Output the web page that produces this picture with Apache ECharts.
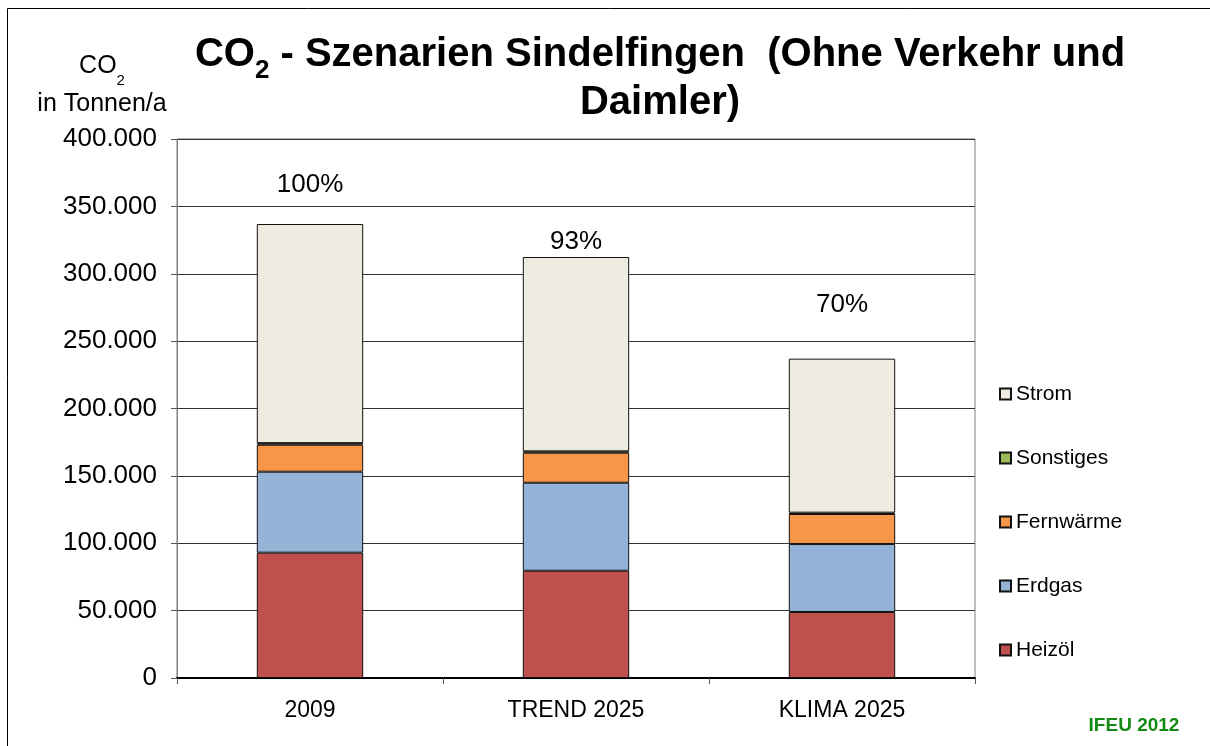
<!DOCTYPE html>
<html>
<head>
<meta charset="utf-8">
<script src="https://cdn.jsdelivr.net/npm/echarts@6/dist/echarts.min.js"></script>
<style>
  html, body { margin: 0; padding: 0; background: #fff; }
  #chart { width: 1210px; height: 746px; }
</style>
</head>
<body>
<div id="chart"></div>
<script>
// values in tonnes CO2 per year
const categories = ['2009', 'TREND 2025', 'KLIMA 2025'];
const heizoel = [93000, 79600, 49000];
const erdgas = [60100, 65300, 50400];
const fernwaerme = [20000, 22300, 22300];
const sonstiges = [1200, 1000, 1000];
const strom = [162600, 144200, 114300];
const percentLabels = ['100%', '93%', '70%'];
const percentLabelY = [366000, 324000, 277000];
const yTicks = [0, 50000, 100000, 150000, 200000, 250000, 300000, 350000, 400000];

const font = 'Liberation Sans, Arial, sans-serif';

const colors = {
    'Heizöl': '#C0504D',
    'Erdgas': '#95B3D7',
    'Fernwärme': '#F79646',
    'Sonstiges': '#9BBB59',
    'Strom': '#EEECE1'
};

function barSeries(name, data) {
    return {
        name: name,
        type: 'bar',
        stack: 'co2',
        barWidth: '40%',
        data: data,
        itemStyle: { color: colors[name], borderColor: '#111', borderWidth: 1 }
    };
}

function fmt(v) {
    if (v === 0) return '0';
    return String(v).replace(/\B(?=(\d{3})+(?!\d))/g, '.');
}

const chart = echarts.init(document.getElementById('chart'));
chart.setOption({
    animation: false,
    backgroundColor: '#fff',
    textStyle: { fontFamily: font },
    grid: {
        left: 177, right: 235, top: 139, bottom: 68,
        show: true, borderColor: '#7f7f7f', borderWidth: 1
    },
    legend: {
        orient: 'vertical',
        left: 999,
        top: 383,
        padding: 0,
        icon: 'rect',
        itemWidth: 11,
        itemHeight: 11,
        itemGap: 42,
        data: ['Strom', 'Sonstiges', 'Fernwärme', 'Erdgas', 'Heizöl'],
        textStyle: { fontFamily: font, fontSize: 21, color: '#000', lineHeight: 22 }
    },
    xAxis: {
        type: 'category',
        data: categories,
        axisLine: { lineStyle: { color: '#000', width: 2 } },
        axisTick: { show: true, length: 6, lineStyle: { color: '#555' } },
        axisLabel: { fontFamily: font, fontSize: 23, color: '#000', margin: 21 }
    },
    yAxis: {
        type: 'value',
        min: 0,
        max: 400000,
        interval: 50000,
        axisLine: { show: true, lineStyle: { color: '#7f7f7f' } },
        axisTick: { show: true, length: 6, lineStyle: { color: '#555' } },
        splitLine: { lineStyle: { color: '#333', width: 1 } },
        axisLabel: {
            fontFamily: font, fontSize: 26, color: '#000', margin: 20,
            formatter: v => yTicks.includes(v) ? fmt(v) : ''
        }
    },
    series: [
        barSeries('Heizöl', heizoel),
        barSeries('Erdgas', erdgas),
        barSeries('Fernwärme', fernwaerme),
        barSeries('Sonstiges', sonstiges),
        barSeries('Strom', strom),
        {
            // percentage labels above the bars
            type: 'scatter',
            symbolSize: 0,
            silent: true,
            itemStyle: { opacity: 1 },
            data: percentLabelY,
            label: {
                show: true,
                position: 'inside',
                fontFamily: font,
                fontSize: 26,
                color: '#000',
                textBorderWidth: 0,
                formatter: p => percentLabels[p.dataIndex]
            }
        }
    ],
    graphic: [
        {
            type: 'rect',
            shape: { x: 7.5, y: 8.5, width: 1220, height: 760 },
            style: { fill: null, stroke: '#000', lineWidth: 1 },
            silent: true
        },
        {
            type: 'text',
            x: 660, y: 27,
            style: {
                text: '{b|CO}{s|2}{b| - Szenarien Sindelfingen  (Ohne Verkehr und}\n{b|Daimler)}',
                align: 'center',
                rich: {
                    b: { fontFamily: font, fontSize: 40, fontWeight: 'bold', color: '#000', lineHeight: 48, verticalAlign: 'bottom' },
                    s: { fontFamily: font, fontSize: 26, fontWeight: 'bold', color: '#000', lineHeight: 48, verticalAlign: 'bottom', padding: [0, 0, -9, 0] }
                }
            }
        },
        {
            type: 'text',
            x: 102, y: 41,
            style: {
                text: '{n|CO}{s|2}\n{n|in Tonnen/a}',
                align: 'center',
                rich: {
                    n: { fontFamily: font, fontSize: 25, color: '#000', lineHeight: 38, verticalAlign: 'bottom' },
                    s: { fontFamily: font, fontSize: 15, color: '#000', lineHeight: 38, verticalAlign: 'bottom', padding: [0, 0, -9, 0] }
                }
            }
        },
        {
            type: 'text',
            x: 1134, y: 726,
            style: {
                text: 'IFEU 2012',
                align: 'center',
                verticalAlign: 'middle',
                fontFamily: font,
                fontSize: 19,
                fontWeight: 'bold',
                fill: '#138a13'
            }
        }
    ]
});
</script>
</body>
</html>
